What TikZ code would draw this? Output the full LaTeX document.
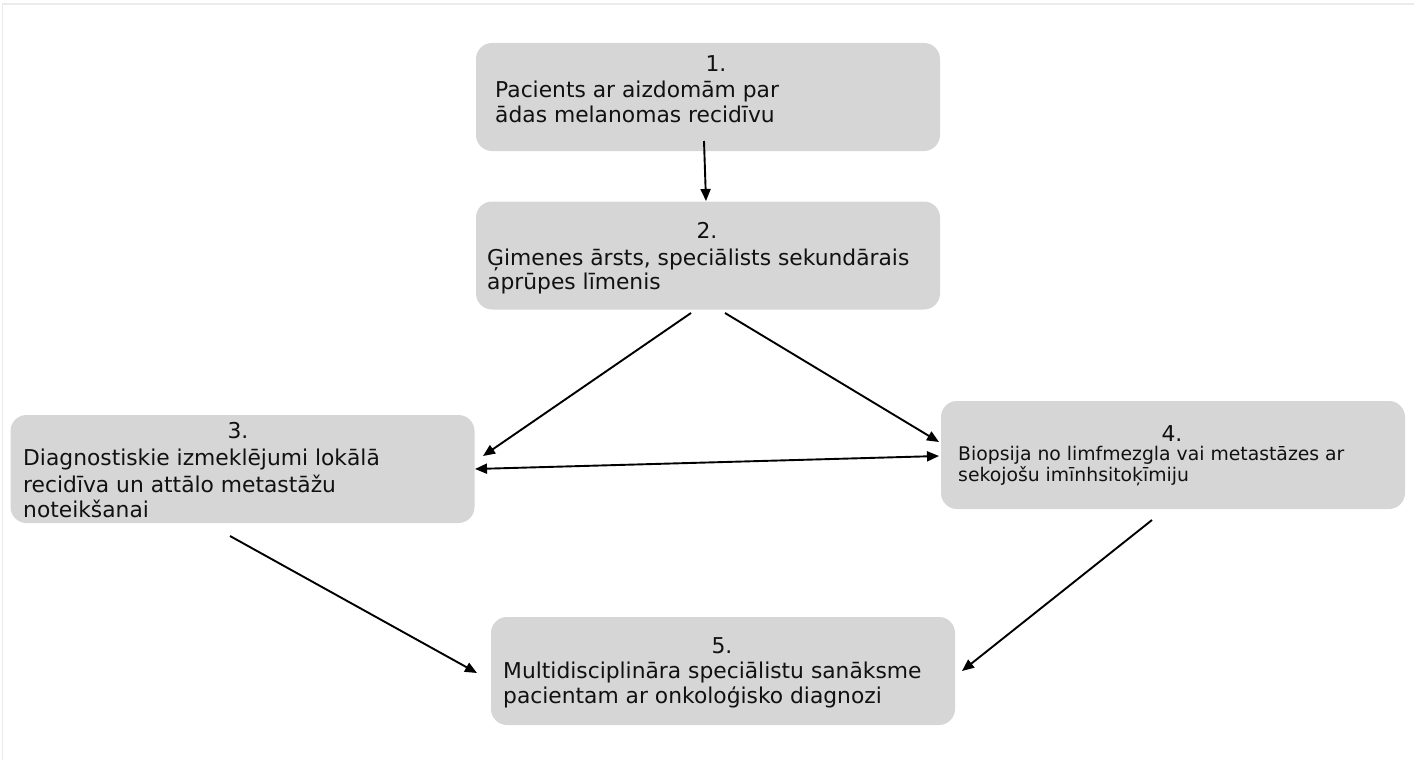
\documentclass[tikz,border=0pt]{standalone}
\usepackage{fontspec}
\setmainfont{DejaVu Sans}
\usetikzlibrary{arrows.meta}
\definecolor{boxgray}{HTML}{D6D6D6}
\definecolor{txt}{HTML}{111111}
\begin{document}
\begin{tikzpicture}[x=1pt,y=-1pt,
  box/.style={fill=boxgray, draw=none, rounded corners=16pt, minimum width=464pt, minimum height=108pt, inner sep=0pt},
  big/.style={font=\fontsize{21.8}{26}\selectfont, text=txt, inner sep=0pt},
  small/.style={font=\fontsize{18.8}{22}\selectfont, text=txt, inner sep=0pt},
  arr/.style={-{Triangle[length=12pt,width=10pt]}, line width=1.9pt},
  darr/.style={{Triangle[length=12pt,width=10pt]}-{Triangle[length=12pt,width=10pt]}, line width=1.9pt}]
\useasboundingbox (0,0) rectangle (1414,760);
\draw[black!8, line width=1.5pt] (2,4) -- (1414,4);
\draw[black!8, line width=1pt] (2,4) -- (2,760);
% boxes
\node[box] (b1) at (708,97) {};
\node[box] (b2) at (708,255.5) {};
\node[box] (b3) at (242.5,469) {};
\node[box] (b4) at (1173,455) {};
\node[box] (b5) at (723,671) {};
% box 1
\node[big, anchor=base] (n1) at (716,71) {1.};
\node[big, anchor=base west] (t1a) at (495,97) {Pacients ar aizdomām par};
\node[big, anchor=base west] (t1b) at (495,122) {ādas melanomas recidīvu};
% box 2
\node[big, anchor=base] (n2) at (707,238) {2.};
\node[big, anchor=base west] (t2a) at (487,265) {Ģimenes ārsts, speciālists sekundārais};
\node[big, anchor=base west] (t2b) at (487,289) {aprūpes līmenis};
% box 3
\node[big, anchor=base] (n3) at (238,438) {3.};
\node[big, anchor=base west] (t3a) at (23,465) {Diagnostiskie izmeklējumi lokālā};
\node[big, anchor=base west] (t3b) at (23,492) {recidīva un attālo metastāžu};
\node[big, anchor=base west] (t3c) at (23,517) {noteikšanai};
% box 4
\node[big, anchor=base] (n4) at (1172,441) {4.};
\node[small, anchor=base west] (t4a) at (958,460) {Biopsija no limfmezgla vai metastāzes ar};
\node[small, anchor=base west] (t4b) at (958,481) {sekojošu imīnhsitoķīmiju};
% box 5
\node[big, anchor=base] (n5) at (722,653) {5.};
\node[big, anchor=base west] (t5a) at (503,678) {Multidisciplināra speciālistu sanāksme};
\node[big, anchor=base west] (t5b) at (503,703) {pacientam ar onkoloģisko diagnozi};
% connector end points
\coordinate (a12s) at (704,141);
\coordinate (a12e) at (706,201);
\coordinate (a23s) at (691,313);
\coordinate (a23e) at (483,456);
\coordinate (a24s) at (725,313);
\coordinate (a24e) at (939,442);
\coordinate (a34s) at (475,469);
\coordinate (a34e) at (939,456);
\coordinate (a35s) at (230,536);
\coordinate (a35e) at (477,673);
\coordinate (a45s) at (1152,520);
\coordinate (a45e) at (962,671);
\draw[arr] (a12s) -- (a12e);
\draw[arr] (a23s) -- (a23e);
\draw[arr] (a24s) -- (a24e);
\draw[darr] (a34s) -- (a34e);
\draw[arr] (a35s) -- (a35e);
\draw[arr] (a45s) -- (a45e);
\end{tikzpicture}
\end{document}
